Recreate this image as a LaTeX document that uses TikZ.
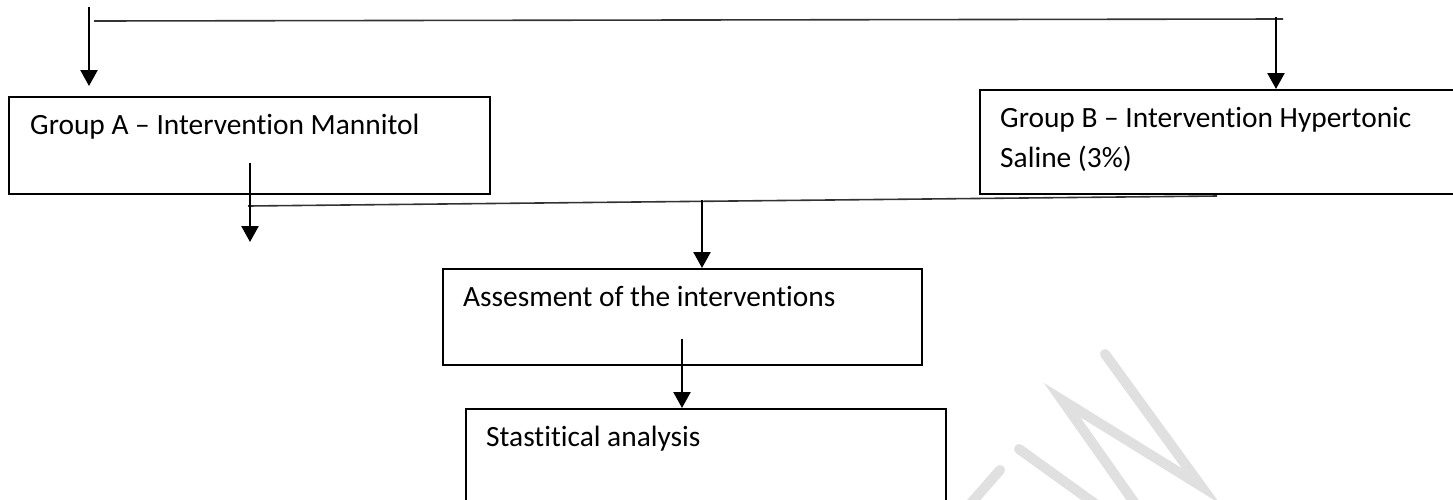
\documentclass[tikz,border=0pt]{standalone}
\usepackage{fontspec}
\setmainfont[Ligatures=NoCommon]{Carlito}
\usetikzlibrary{arrows.meta}
\begin{document}
\begin{tikzpicture}[x=1pt,y=-1pt,
    box/.style={draw,line width=1.8pt,anchor=north west,inner sep=0pt},
    boxtext/.style={anchor=base west,inner sep=0pt,align=left,
      font=\fontsize{29.4}{40}\selectfont},
    link/.style={line width=1.6pt,draw=black!80},
    arrow/.style={line width=2.4pt,-{Triangle[width=17pt,length=16pt]}},
    wmark/.style={line width=10pt,line cap=round,draw=black!12}]
  \clip (0,0) rectangle (1453,499);
  \fill[white] (0,0) rectangle (1453,499);
  \draw[wmark] (1105,354) -- (1201,486) -- (1062,400) -- (1141,512);
  \draw[wmark] (1019,449) -- (1112,516);
  \draw[wmark] (1000,470) -- (965,510);
  \node[box,minimum width=481pt,minimum height=97pt] (groupA) at (8,96) {};
  \node[box,minimum width=500pt,minimum height=104pt] (groupB) at (979,89) {};
  \node[box,minimum width=479pt,minimum height=96pt] (assess) at (442,268) {};
  \node[box,minimum width=480pt,minimum height=120pt] (stats) at (465,408) {};
  \node[boxtext] (textA) at (30,134) {Group A – Intervention Mannitol};
  \node[boxtext] (textB) at (1000,167) {Group B – Intervention Hypertonic\\Saline (3\%)};
  \node[boxtext] (textC) at (463,306) {Assesment of the interventions};
  \node[boxtext] (textD) at (486,446) {Stastitical analysis};
  \coordinate (topL) at (94,21);
  \coordinate (topR) at (1283,19);
  \coordinate (inA) at (89,7);
  \coordinate (inAtip) at (89,86);
  \coordinate (inB) at (1276,17);
  \coordinate (outA) at (250,163);
  \coordinate (outAtip) at (250,242);
  \coordinate (midL) at (248,206);
  \coordinate (midR) at (1217,196);
  \coordinate (midIn) at (702,200);
  \coordinate (outC) at (682,339);
  \begin{scope}[link]
    \draw (topL) -- (topR);
    \draw (midL) -- (midR);
  \end{scope}
  \begin{scope}[arrow]
    \draw (inA) -- (inAtip);
    \draw (inB) -- (groupB.north -| inB);
    \draw (outA) -- (outAtip);
    \draw (midIn) -- (assess.north -| midIn);
    \draw (outC) -- (stats.north -| outC);
  \end{scope}
\end{tikzpicture}
\end{document}
